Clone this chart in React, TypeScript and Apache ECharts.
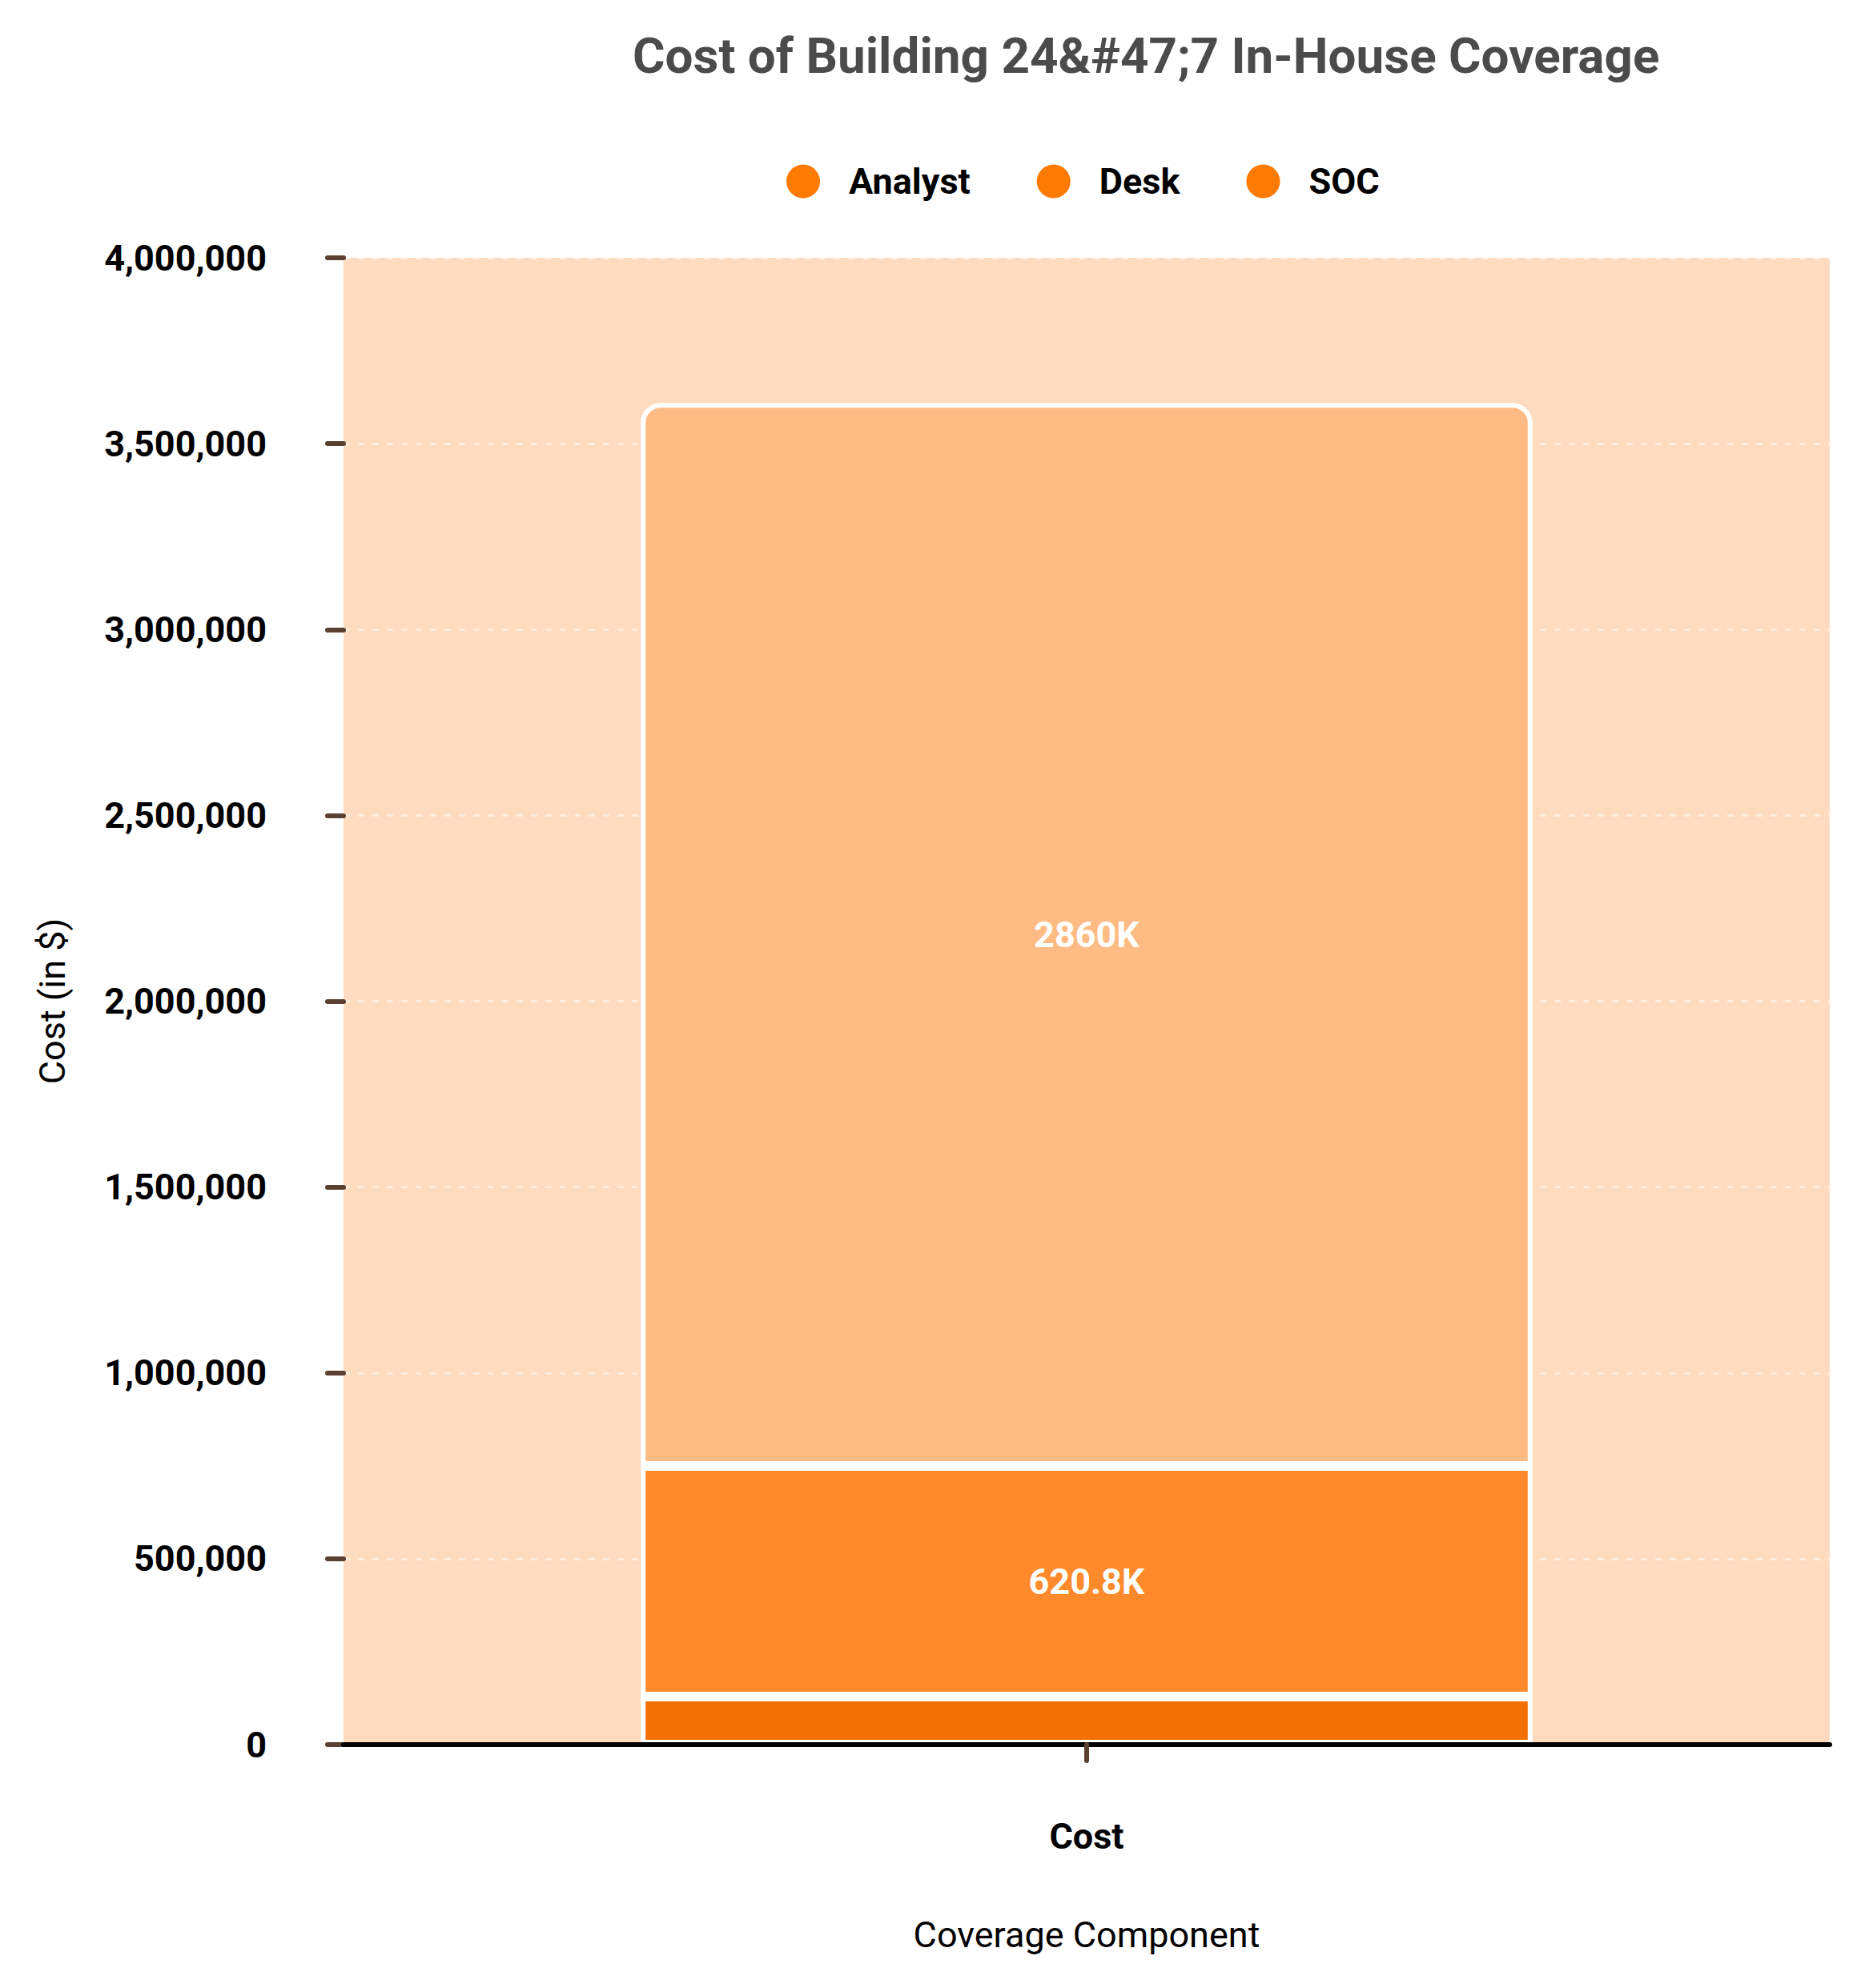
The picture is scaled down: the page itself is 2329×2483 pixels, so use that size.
import * as echarts from 'echarts';
import { useEffect, useRef } from 'react';

// data
const categories = ['Cost'];
const seriesNames = ['Analyst', 'Desk', 'SOC'];
const analystValues = [129000];
const deskValues = [620800];
const socValues = [2860000];
const yTicks = { min: 0, max: 4000000, interval: 500000 };

const FONT = 'Roboto';
const segmentColors = ['#F27006', '#FF8A2B', '#FFBB84'];

const formatK = (v: number) => `${Math.round(v / 100) / 10}K`;

const makeSeries = (name: string, values: number[], idx: number, top: boolean, showLabel: boolean) => ({
  name,
  type: 'bar',
  stack: 'total',
  barWidth: '60%',
  data: values,
  itemStyle: {
    color: segmentColors[idx],
    borderColor: '#ffffff',
    borderWidth: 6,
    borderRadius: top ? [22, 22, 0, 0] : 0,
  },
  label: {
    show: showLabel,
    position: 'inside',
    color: '#ffffff',
    fontFamily: FONT,
    fontWeight: 'bold',
    fontSize: 45,
    formatter: (p: any) => formatK(p.value),
  },
});

export default function App() {
  const chartRef = useRef<HTMLDivElement>(null);

  useEffect(() => {
    if (!chartRef.current) return;
    document.body.style.margin = '0';
    const chart = echarts.init(chartRef.current, undefined, { renderer: 'svg' });

    chart.setOption({
      animation: false,
      backgroundColor: '#ffffff',
      title: {
        text: 'Cost of Building 24&#47;7 In-House Coverage',
        left: 785,
        top: 33,
        textStyle: {
          fontFamily: FONT,
          fontWeight: 'bold',
          fontSize: 62,
          color: '#4B4B4B',
        },
      },
      legend: {
        left: 977,
        top: 199,
        icon: 'circle',
        itemWidth: 42,
        itemHeight: 42,
        itemGap: 83,
        itemStyle: { borderWidth: 0 },
        textStyle: {
          fontFamily: FONT,
          fontWeight: 'bold',
          fontSize: 45,
          color: '#000000',
          padding: [0, 0, 0, 31],
        },
        data: seriesNames.map(name => ({ name, itemStyle: { color: '#FF7A00', borderWidth: 0 } })),
      },
      grid: {
        left: 429,
        right: 44,
        top: 322,
        bottom: 304,
        show: true,
        backgroundColor: '#FFDCC0',
        borderWidth: 0,
      },
      xAxis: {
        type: 'category',
        z: 10,
        data: categories,
        name: 'Coverage Component',
        nameLocation: 'middle',
        nameGap: 215,
        nameTextStyle: { fontFamily: FONT, fontSize: 45, color: '#000000' },
        axisLine: { show: true, lineStyle: { color: '#000000', width: 6, cap: 'round' } },
        axisTick: {
          show: true,
          alignWithLabel: true,
          length: 20,
          lineStyle: { color: '#5A4030', width: 6, cap: 'round' },
        },
        axisLabel: {
          margin: 92,
          fontFamily: FONT,
          fontWeight: 'bold',
          fontSize: 45,
          color: '#000000',
        },
      },
      yAxis: {
        type: 'value',
        min: yTicks.min,
        max: yTicks.max,
        interval: yTicks.interval,
        name: 'Cost (in $)',
        nameLocation: 'middle',
        nameGap: 341,
        nameTextStyle: { fontFamily: FONT, fontSize: 45, color: '#000000' },
        axisLine: { show: false },
        axisTick: { show: true, length: 20, lineStyle: { color: '#5A4030', width: 6, cap: 'round' } },
        axisLabel: {
          margin: 96,
          fontFamily: FONT,
          fontWeight: 'bold',
          fontSize: 45,
          color: '#000000',
          formatter: (v: number) => v.toLocaleString('en-US'),
        },
        splitLine: {
          lineStyle: { color: 'rgba(255,255,255,0.45)', width: 3, type: [8, 10] },
        },
      },
      series: [
        makeSeries(seriesNames[0], analystValues, 0, false, false),
        makeSeries(seriesNames[1], deskValues, 1, false, true),
        makeSeries(seriesNames[2], socValues, 2, true, true),
      ],
    });

    return () => {
      chart.dispose();
    };
  }, []);

  return <div ref={chartRef} style={{ width: 2329, height: 2483 }} />;
}
